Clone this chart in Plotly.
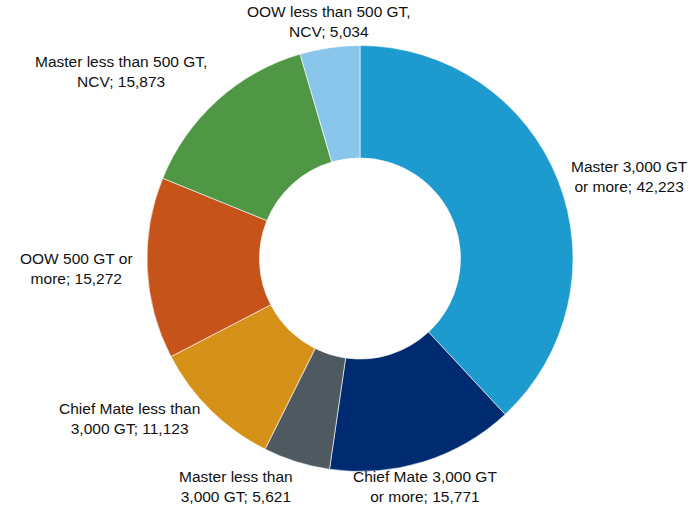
import math
import plotly.graph_objects as go

labels = [
    "Master 3,000 GT<br>or more",
    "Chief Mate 3,000 GT<br>or more",
    "Master less than<br>3,000 GT",
    "Chief Mate less than<br>3,000 GT",
    "OOW 500 GT or<br>more",
    "Master less than 500 GT,<br>NCV",
    "OOW less than 500 GT,<br>NCV",
]
values = [42223, 15771, 5621, 11123, 15272, 15873, 5034]
colors = ["#1E9BCE", "#002B70", "#4F5A60", "#D69119", "#C5531A", "#4F9645", "#8AC6EC"]

W, H = 700, 511
cx, cy, r = 360, 258.5, 213  # pie centre / radius in pixels

dom_x = [(cx - r) / W, (cx + r) / W]
dom_y = [(H - cy - r) / H, (H - cy + r) / H]

fig = go.Figure(go.Pie(
    labels=labels,
    values=values,
    sort=False,
    direction="clockwise",
    rotation=0,
    hole=0.472,
    marker=dict(colors=colors, line=dict(color="white", width=0.6)),
    textinfo="none",
    domain=dict(x=dom_x, y=dom_y),
    showlegend=False,
    hoverinfo="label+value",
))

# label annotations positioned from slice mid-angles
total = sum(values)
cum = 0
annotations = []
for lab, v in zip(labels, values):
    mid = (cum + v / 2) / total
    cum += v
    th = 2 * math.pi * mid
    s, c = math.sin(th), math.cos(th)
    if c > 0.8:
        R = r + 6
    elif c < -0.8:
        R = r + 4
    else:
        R = r + 12
    px = cx + R * s
    py = cy - R * c
    xa = "left" if s > 0.35 else ("right" if s < -0.2 else "center")
    ya = "bottom" if c > 0.5 else ("top" if c < -0.8 else "middle")
    annotations.append(dict(
        x=px / W, y=1 - py / H, xref="paper", yref="paper",
        text=f"{lab}; {v:,}", showarrow=False,
        xanchor=xa, yanchor=ya, align="center",
        font=dict(family="Liberation Sans, Arial, sans-serif", size=15.5, color="#111111"),
    ))

fig.update_layout(
    width=W, height=H,
    margin=dict(l=0, r=0, t=0, b=0),
    paper_bgcolor="white",
    plot_bgcolor="white",
    annotations=annotations,
)

fig.write_html(
    "out.html",
    config={"displayModeBar": False},
    post_script="document.body.style.margin='0';",
)
